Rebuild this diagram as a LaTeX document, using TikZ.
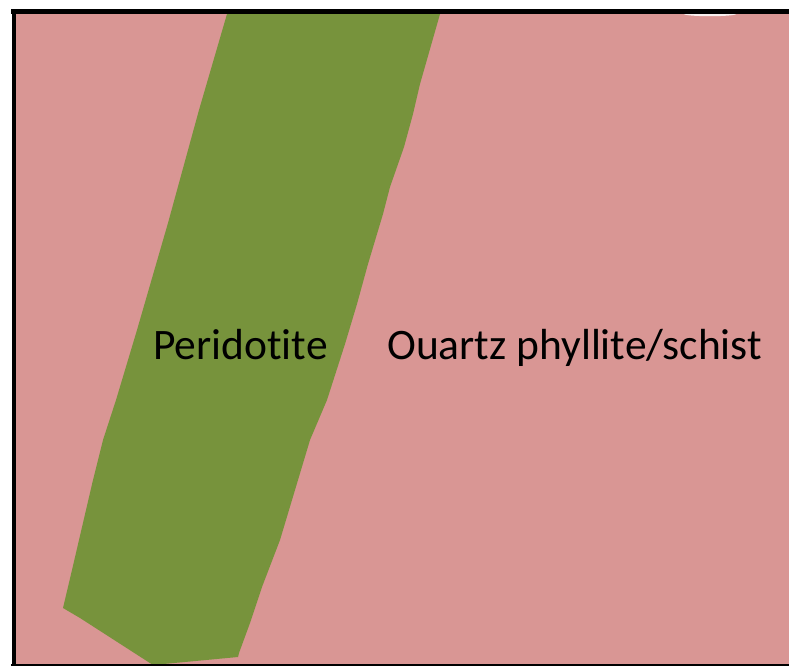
\documentclass[tikz,border=0pt]{standalone}
\usepackage{fontspec}
\setmainfont{Carlito}[Ligatures=NoCommon]
\definecolor{schist}{HTML}{D99694}
\definecolor{perid}{HTML}{77933C}
\tikzset{
  unit label/.style={inner sep=0pt, anchor=base west, text=black,
    font=\fontsize{43.5bp}{50bp}\selectfont},
}
\begin{document}
\begin{tikzpicture}[x=1bp, y=-1bp]
  \useasboundingbox (0,0) rectangle (789,666);
  % host rock
  \fill[schist] (16,14) rectangle (789,664);
  % peridotite band
  \fill[perid] (227,14) -- (199,110) -- (168,223) -- (137,330) -- (116,400)
    -- (103,440) -- (93,480) -- (72,570) -- (63,608) -- (80,618)
    -- (153,665) -- (238,657) -- (239,653) -- (250,623) -- (262,587)
    -- (280,540) -- (295,490) -- (310,440) -- (327,400) -- (345,344)
    -- (357,304) -- (368,264) -- (383,214) -- (390,187) -- (404,147)
    -- (413,114) -- (420,84) -- (440,14) -- cycle;
  % small light gap under the top edge
  \fill[white, opacity=0.85] (710,14) ellipse [x radius=26, y radius=2.2];
  % frame lines
  \fill[black] (11,9) rectangle (789,14);
  \fill[black] (12,9) rectangle (16,666);
  \fill[black] (11,664) rectangle (789,666);
  % labels
  \node[unit label] (peridotite) at (153,359) {Peridotite};
  \node[unit label] (schist) at (387,359) {Ouartz phyllite/schist};
\end{tikzpicture}
\end{document}
